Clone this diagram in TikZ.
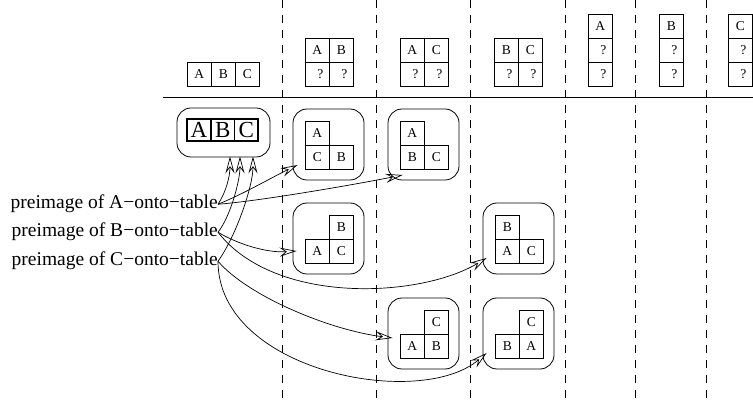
\documentclass[tikz,border=0pt]{standalone}
\usepackage{fontspec}
\setmainfont{Liberation Serif}
\usetikzlibrary{arrows.meta,calc}

% a rounded frame holding an L-shaped stack of three blocks
% #1 name, #2 #3 top-left corner, #4 x-offset of the upper block,
% #5 upper block, #6 lower-left block, #7 lower-right block
\newcommand\stackbox[7]{%
  \node[frame] (#1) at (#2+35.5,#3+35.5) {};
  \node[cell] (#1t) at (#2+#4,#3+12) {#5};
  \node[cell] (#1l) at (#2+12,#3+36) {#6};
  \node[cell] (#1r) at (#2+36,#3+36) {#7};
}
\newcommand\qmark{\hspace*{6pt}?}

\begin{document}
\begin{tikzpicture}[x=1pt,y=-1pt,
  cell/.style={draw, line width=0.7pt, minimum width=24pt, minimum height=24pt,
    inner sep=0pt, anchor=north west, font=\fontsize{13.5}{14}\selectfont},
  bigcell/.style={draw, line width=1.6pt, minimum width=23.7pt, minimum height=22pt,
    inner sep=0pt, font=\fontsize{23}{23}\selectfont},
  frame/.style={draw, line width=0.8pt, rounded corners=14pt,
    minimum width=71pt, minimum height=71pt, inner sep=0pt},
  sep/.style={line width=0.8pt, dash pattern=on 8pt off 7pt},
  lab/.style={anchor=base east, inner sep=0pt, font=\fontsize{19.5}{22}\selectfont},
  conn/.style={line width=0.7pt, -{Stealth[open,length=17pt,width=9pt,inset=6pt]}}]

\path[use as bounding box] (0,0) rectangle (753,403);

% column separators and the header rule
\foreach \x in {282,376,470,565,635,706}
  \draw[sep] (\x,0) -- (\x,403);
\draw[line width=0.8pt] (163,97) -- (753,97);

% header: partial states of each column
\node[cell] (h0a) at (187,62) {A};
\node[cell] (h0b) at (211,62) {B};
\node[cell] (h0c) at (235,62) {C};

\node[cell] (h1a) at (305,38) {A};
\node[cell] (h1b) at (329,38) {B};
\node[cell] (h1c) at (305,62) {\qmark};
\node[cell] (h1d) at (329,62) {\qmark};

\node[cell] (h2a) at (400,38) {A};
\node[cell] (h2b) at (424,38) {C};
\node[cell] (h2c) at (400,62) {\qmark};
\node[cell] (h2d) at (424,62) {\qmark};

\node[cell] (h3a) at (494,38) {B};
\node[cell] (h3b) at (518,38) {C};
\node[cell] (h3c) at (494,62) {\qmark};
\node[cell] (h3d) at (518,62) {\qmark};

\node[cell] (h4a) at (588,14) {A};
\node[cell] (h4b) at (588,38) {\qmark};
\node[cell] (h4c) at (588,62) {\qmark};

\node[cell] (h5a) at (659,14) {B};
\node[cell] (h5b) at (659,38) {\qmark};
\node[cell] (h5c) at (659,62) {\qmark};

\node[cell] (h6a) at (728,14) {C};
\node[cell] (h6b) at (728,38) {\qmark};
\node[cell] (h6c) at (728,62) {\qmark};

% the state with all three blocks on the table
\node[frame, minimum width=93pt, minimum height=49pt] (abc) at (223.5,132.5) {};
\node[bigcell] (ba) at (199,130) {A};
\node[bigcell] (bb) at (222.7,130) {B};
\node[bigcell] (bc) at (246.4,130) {C};

% states with one block stacked
\stackbox{r11}{293}{109}{12}{A}{C}{B}
\stackbox{r12}{388}{109}{12}{A}{B}{C}
\stackbox{r21}{293}{203}{36}{B}{A}{C}
\stackbox{r23}{483}{203}{12}{B}{A}{C}
\stackbox{r32}{388}{298}{36}{C}{A}{B}
\stackbox{r33}{483}{298}{36}{C}{B}{A}

% preimage labels
\node[lab] (la) at (218,209) {preimage of A−onto−table};
\node[lab] (lb) at (218,237) {preimage of B−onto−table};
\node[lab] (lc) at (218,266) {preimage of C−onto−table};

% arrows into the all-on-table state
\draw[conn] (la.east) .. controls +(8,-12) and +(0,20) .. ($(abc.south)+(6.5,-1)$);
\draw[conn] (lb.east) .. controls +(12,-15) and +(0,25) .. ($(abc.south)+(16.5,-1)$);
\draw[conn] (lc.east) .. controls +(18,-25) and +(0,30) .. ($(abc.south)+(29.5,-1)$);

% arrows from A
\draw[conn] (la.east) .. controls +(25,-10) and +(-25,12) .. ($(r11.west)+(5,20.5)$);
\draw[conn] (la.east) .. controls +(40,-3) and +(-50,10) .. ($(r12.west)+(15,30.5)$);

% arrows from B
\draw[conn] (lb.east) .. controls +(20,12) and +(-30,2) .. ($(r21.west)+(4,12.5)$);
\draw[conn] (lb.east) .. controls +(57,73) and +(-67,40) .. ($(r23.west)+(4,19.5)$);

% arrows from C
\draw[conn] (lc.east) .. controls +(30,35) and +(-63,-8) .. ($(r32.west)+(5,4.5)$);
\draw[conn] (lc.east) .. controls +(0,110) and +(-67,57) .. ($(r33.west)+(4,19.5)$);
\end{tikzpicture}
\end{document}
